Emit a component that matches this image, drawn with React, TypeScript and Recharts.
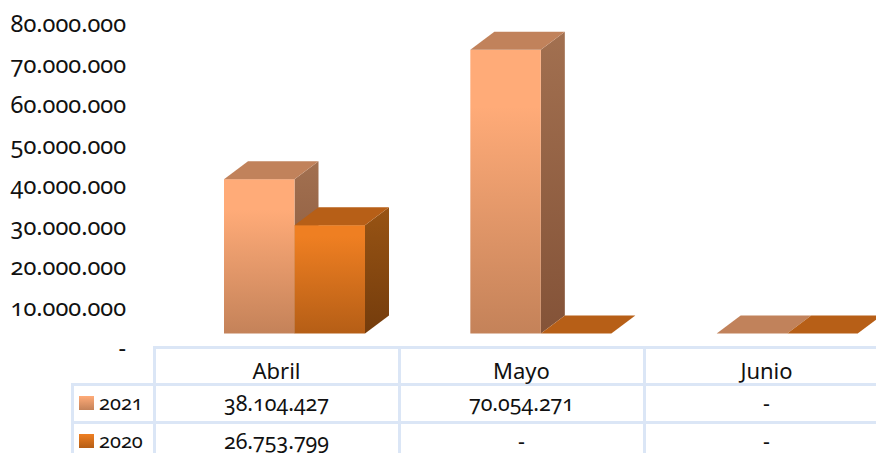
import React from "react";
import { BarChart, Bar, YAxis, XAxis } from "recharts";

const categories = ["Abril", "Mayo", "Junio"];
const series2021 = [38104427, 70054271, 0];
const series2020 = [26753799, 0, 0];
const yTicks = [0, 10000000, 20000000, 30000000, 40000000, 50000000, 60000000, 70000000, 80000000];
const seriesNames = ["2021", "2020"];

const data = categories.map((c, i) => ({ name: c, a: series2021[i], b: series2020[i] }));
const FONT = "'Noto Sans', 'Open Sans', sans-serif";
const GRID = "#dbe6f6";
const INK = "#111111";
const fmt = (v: number) => (v === 0 ? "-" : String(v).replace(/\B(?=(\d{3})+(?!\d))/g, "."));

const DX = 24;
const DY = 18;

function Box3D(props: any) {
  const { x, y, width: w, height: h, id, top } = props;
  return (
    <g>
      {h > 0.5 && (
        <>
          <polygon points={`${x + w},${y} ${x + w + DX},${y - DY} ${x + w + DX},${y + h - DY} ${x + w},${y + h}`} fill={`url(#side${id})`} />
          <rect x={x} y={y} width={w} height={h} fill={`url(#front${id})`} />
        </>
      )}
      <polygon points={`${x},${y} ${x + DX},${y - DY} ${x + w + DX},${y - DY} ${x + w},${y}`} fill={top} />
    </g>
  );
}

const colLines = [154, 399, 644];
const rowLines = [347, 384, 422];

function Line({ left, top, width, height }: any) {
  return <div style={{ position: "absolute", left, top, width, height, background: GRID }} />;
}

function Cell({ left, width, top, size, children }: any) {
  return (
    <div style={{ position: "absolute", left, width, top, textAlign: "center", fontSize: size, lineHeight: "24px", color: INK, fontVariantNumeric: "oldstyle-nums" }}>
      {children}
    </div>
  );
}

function DataTable() {
  const rows = [series2021, series2020];
  return (
    <div style={{ position: "absolute", left: 0, top: 0, width: 876, height: 453, fontFamily: FONT }}>
      <Line left={153} top={rowLines[0] - 1} width={723} height={3} />
      <Line left={71} top={rowLines[1] - 1} width={805} height={3} />
      <Line left={71} top={rowLines[2] - 1} width={805} height={3} />
      <Line left={71} top={384} width={3} height={69} />
      {colLines.map((x, i) => (
        <Line key={i} left={x - 1} top={347} width={3} height={106} />
      ))}
      {categories.map((c, i) => (
        <Cell key={c} left={colLines[i]} width={245} top={358} size={22}>{c}</Cell>
      ))}
      {rows.map((r, ri) => (
        <React.Fragment key={ri}>
          <div style={{ position: "absolute", left: 79, top: 396 + ri * 38, width: 15, height: 14, background: ri === 0 ? "linear-gradient(#ffab78,#c48259)" : "linear-gradient(#ef7f22,#b55e16)" }} />
          <div style={{ position: "absolute", left: 99, top: 390 + ri * 38, fontSize: 20, lineHeight: "26px", color: INK, fontVariantNumeric: "oldstyle-nums" }}>{seriesNames[ri]}</div>
          {r.map((v, i) => (
            <Cell key={i} left={colLines[i]} width={245} top={391 + ri * 38} size={21.4}>{fmt(v)}</Cell>
          ))}
        </React.Fragment>
      ))}
    </div>
  );
}

export default function App() {
  return (
    <div style={{ position: "absolute", left: 0, top: 0, width: 876, height: 453, overflow: "hidden", background: "#fff" }}>
      <BarChart
        width={910}
        height={453}
        data={data}
        barSize={70.5}
        barGap={0}
        margin={{ top: 9.5, right: 0, bottom: 119.5, left: 0 }}
      >
        <defs>
          <linearGradient id="frontA" x1="0" y1="0" x2="0" y2="1">
            <stop offset="0.2" stopColor="#ffab78" />
            <stop offset="1" stopColor="#c48259" />
          </linearGradient>
          <linearGradient id="frontB" x1="0" y1="0" x2="0" y2="1">
            <stop offset="0.1" stopColor="#ef7f22" />
            <stop offset="1" stopColor="#b55e16" />
          </linearGradient>
          <linearGradient id="sideA" x1="0" y1="0" x2="0" y2="1">
            <stop offset="0" stopColor="#a27050" />
            <stop offset="1" stopColor="#845338" />
          </linearGradient>
          <linearGradient id="sideB" x1="0" y1="0" x2="0" y2="1">
            <stop offset="0" stopColor="#985414" />
            <stop offset="1" stopColor="#743c0c" />
          </linearGradient>
        </defs>
        <XAxis dataKey="name" hide />
        <YAxis
          width={171}
          domain={[0, 80000000]}
          ticks={yTicks}
          interval={0}
          axisLine={false}
          tickLine={false}
          tickSize={0}
          tickMargin={45}
          tickFormatter={fmt}
          tick={{ fontFamily: FONT, fontSize: 23.5, fill: INK, dy: 14.5, style: { fontVariantNumeric: "oldstyle-nums" } }}
        />
        <Bar dataKey="a" isAnimationActive={false} shape={(p: any) => <Box3D {...p} id="A" top="#c1825b" />} />
        <Bar dataKey="b" isAnimationActive={false} shape={(p: any) => <Box3D {...p} id="B" top="#b75f17" />} />
      </BarChart>
      <DataTable />
    </div>
  );
}
